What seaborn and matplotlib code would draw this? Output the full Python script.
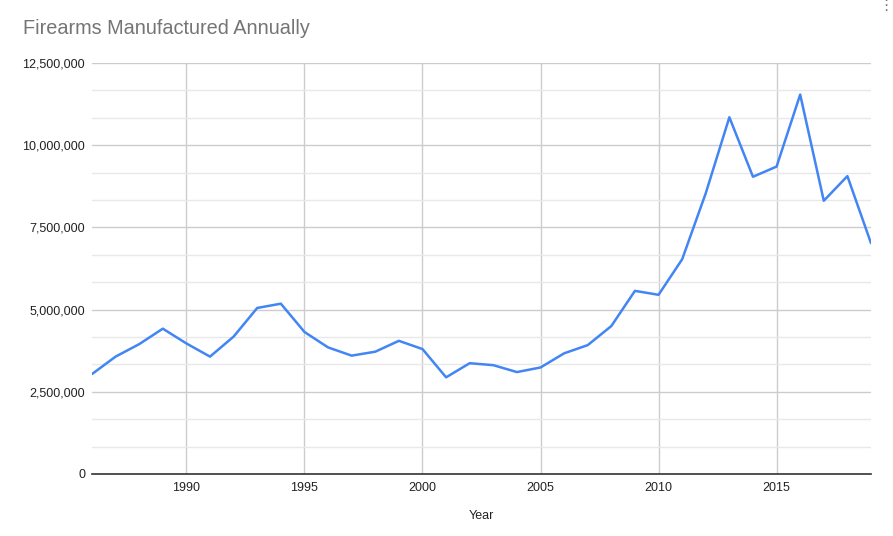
import matplotlib
matplotlib.use("Agg")
import matplotlib.pyplot as plt
import seaborn as sns
import pandas as pd
from matplotlib.ticker import FuncFormatter, MultipleLocator

# firearms manufactured per year
years = list(range(1986, 2020))
firearms = [
    3040000, 3570000, 3950000, 4420000, 3970000, 3570000, 4180000, 5050000,
    5180000, 4320000, 3850000, 3600000, 3720000, 4050000, 3800000, 2940000,
    3370000, 3310000, 3100000, 3240000, 3670000, 3920000, 4500000, 5570000,
    5450000, 6530000, 8540000, 10850000, 9040000, 9350000, 11540000, 8310000,
    9060000, 7020000,
]
x_ticks = [1990, 1995, 2000, 2005, 2010, 2015]
y_ticks = [0, 2500000, 5000000, 7500000, 10000000, 12500000]

df = pd.DataFrame({"Year": years, "Firearms": firearms})

sns.set_style("white")
plt.rcParams["font.family"] = ["Liberation Sans", "DejaVu Sans"]

fig = plt.figure(figsize=(8.93, 5.36), dpi=100)
ax = fig.add_axes([92 / 893, 1 - 474 / 536, (871 - 92) / 893, (474 - 63) / 536])

sns.lineplot(data=df, x="Year", y="Firearms", color="#4285f4", linewidth=1.8, ax=ax)

ax.set_xlim(1986, 2019)
ax.set_ylim(0, 12500000)
ax.set_xticks(x_ticks)
ax.set_yticks(y_ticks)
ax.yaxis.set_minor_locator(MultipleLocator(2500000 / 3))
ax.yaxis.set_major_formatter(FuncFormatter(lambda v, p: f"{int(v):,}"))

ax.grid(True, which="major", axis="both", color="#cccccc", linewidth=1)
ax.grid(True, which="minor", axis="y", color="#e8e8e8", linewidth=1)
ax.set_axisbelow(True)
for s in ["top", "right", "left"]:
    ax.spines[s].set_visible(False)
ax.spines["bottom"].set_color("#333333")
ax.spines["bottom"].set_linewidth(1.2)

ax.tick_params(axis="both", which="both", length=0, labelsize=9, colors="#222222")
ax.tick_params(axis="x", pad=6)
ax.tick_params(axis="y", pad=5)
ax.set_xlabel("Year", fontsize=9, color="#222222", labelpad=11)
ax.set_ylabel("")

fig.text(23 / 893, 1 - 28 / 536, "Firearms Manufactured Annually", fontsize=14.3,
         color="#757575", va="center", ha="left")

# little menu dots in the corner
fig.text(886 / 893, 1 - 6 / 536, "⋮", fontsize=11, color="#777777", ha="center", va="center")

fig.savefig("out.png", dpi=100)
